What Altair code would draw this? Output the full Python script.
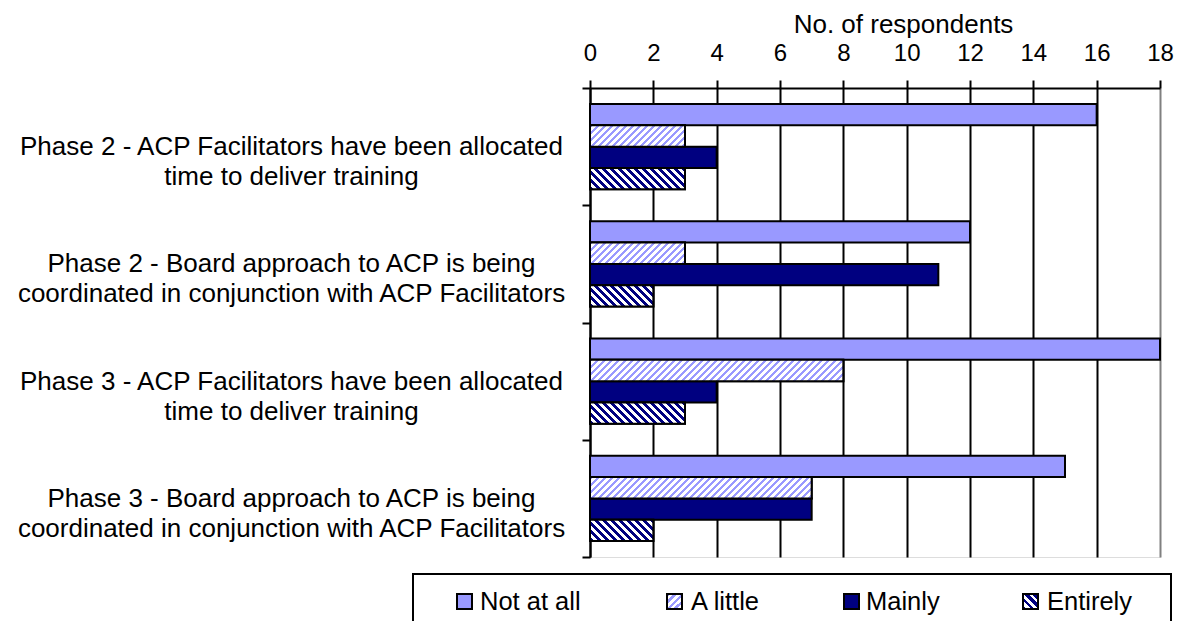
import altair as alt
import pandas as pd

# ---------------- data ----------------
categories = [
    "Phase 2 - ACP Facilitators have been allocated\ntime to deliver training",
    "Phase 2 - Board approach to ACP is being\ncoordinated in conjunction with ACP Facilitators",
    "Phase 3 - ACP Facilitators have been allocated\ntime to deliver training",
    "Phase 3 - Board approach to ACP is being\ncoordinated in conjunction with ACP Facilitators",
]
series = ["Not at all", "A little", "Mainly", "Entirely"]
not_at_all = [16, 12, 18, 15]
a_little = [3, 3, 8, 7]
mainly = [4, 11, 4, 7]
entirely = [3, 2, 3, 2]
x_ticks = [0, 2, 4, 6, 8, 10, 12, 14, 16, 18]
axis_title = "No. of respondents"

values_by_series = {
    "Not at all": not_at_all,
    "A little": a_little,
    "Mainly": mainly,
    "Entirely": entirely,
}
rows = []
for s in series:
    for c, v in zip(categories, values_by_series[s]):
        rows.append({"category": c, "series": s, "value": v})
df = pd.DataFrame(rows)

# ---------------- layout / style ----------------
FONT = "Liberation Sans"
W_PLOT, H_PLOT = 570, 469
X_MAX = 18
PX_PER_UNIT = W_PLOT / X_MAX
OFF_PAD = 0.7525
BAND = H_PLOT / len(categories)
BAR_H = BAND / (len(series) + 2 * OFF_PAD)

LIGHT = "#9999FF"
NAVY = "#000080"
solid_range = [LIGHT, "#FFFFFF", NAVY, "#FFFFFF"]
hatch_style = {
    "A little": dict(color=LIGHT, period=7.0, duty=0.45, direction="/"),
    "Entirely": dict(color=NAVY, period=8.0, duty=0.5, direction="\\"),
}


def hatch(w, h, color, period, duty, direction):
    L = w + h
    s = L * w / (w * w + h * h)
    if direction == "/":
        x1, y1, x2, y2 = 0, 0, s, s * h / w
    else:
        x1, y1, x2, y2 = 0, 1, s, 1 - s * h / w
    stops = []
    k = 0
    while k * period < L:
        a = k * period / L
        b = min((k + duty) * period / L, 1)
        c = min((k + 1) * period / L, 1)
        stops += [(a, color), (b, color), (b, "#FFFFFF"), (c, "#FFFFFF")]
        k += 1
    return {
        "gradient": "linear",
        "x1": round(x1, 5), "y1": round(y1, 5),
        "x2": round(x2, 5), "y2": round(y2, 5),
        "stops": [{"offset": round(o, 5), "color": col} for o, col in stops],
    }


xscale = alt.Scale(domain=[0, X_MAX], nice=False, zero=True)
yscale = alt.Scale(domain=categories, paddingInner=0, paddingOuter=0)
offscale = alt.Scale(domain=series, paddingInner=0, paddingOuter=OFF_PAD)

xaxis = alt.Axis(
    orient="top", values=x_ticks, format="d",
    title=axis_title, titleFont=FONT, titleFontSize=26, titleFontWeight="normal",
    titleColor="black", titleX=313, titleY=-56, titleAlign="center",
    titleBaseline="alphabetic",
    labelFont=FONT, labelFontSize=24, labelColor="black", labelBaseline="alphabetic",
    labelPadding=20, labelFlush=False, labelOverlap=False,
    tickSize=8, tickColor="black", tickWidth=2,
    domainColor="black", domainWidth=2,
    grid=True, gridWidth=2,
    gridColor={"condition": {"test": "datum.value === 18", "value": "#808080"}, "value": "black"},
)
yaxis = alt.Axis(
    title=None, labelExpr="split(datum.label, '\\n')",
    labelFont=FONT, labelFontSize=26, labelColor="black", labelAlign="center",
    labelBaseline="middle", labelLineHeight=30, labelPadding=291, labelLimit=2000,
    tickBand="extent", tickSize=8, tickColor="black", tickWidth=2,
    domainColor="black", domainWidth=2, grid=False,
)

enc_common = dict(
    y=alt.Y("category:N", sort=categories, scale=yscale, axis=yaxis),
    yOffset=alt.YOffset("series:N", sort=series, scale=offscale),
    x=alt.X("value:Q", scale=xscale, axis=xaxis),
)

base = alt.Chart(df).mark_bar(stroke="black", strokeWidth=2).encode(
    color=alt.Color("series:N", scale=alt.Scale(domain=series, range=solid_range), legend=None),
    **enc_common,
)

layers = [base]
for s, st in hatch_style.items():
    for c, v in zip(categories, values_by_series[s]):
        if v <= 0:
            continue
        one = df[(df["series"] == s) & (df["category"] == c)]
        g = hatch(v * PX_PER_UNIT, BAR_H, **st)
        layers.append(
            alt.Chart(one).mark_bar(fill=g, stroke="black", strokeWidth=2).encode(**enc_common)
        )

# ---------------- legend (drawn manually to allow hatched swatches) ----------------
leg_df = pd.DataFrame({"series": series})
legend_box = dict(x=-177, x2=581, y=486, y2=640)
swatch_left = [-133, 77, 254, 433]
text_left = [-110, 101, 276, 457]
SW = 15
SW_TOP = 506

frame = alt.Chart(leg_df.head(1)).mark_rect(
    fill="#FFFFFF", fillOpacity=0, stroke="black", strokeWidth=2
).encode(
    x=alt.value(legend_box["x"]), x2=alt.value(legend_box["x2"]),
    y=alt.value(legend_box["y"]), y2=alt.value(legend_box["y2"]),
)
layers.append(frame)

for i, s in enumerate(series):
    one = leg_df[leg_df["series"] == s]
    if s in hatch_style:
        fill = hatch(SW, SW, **hatch_style[s])
    else:
        fill = solid_range[i]
    layers.append(
        alt.Chart(one).mark_rect(fill=fill, stroke="black", strokeWidth=2).encode(
            x=alt.value(swatch_left[i]), x2=alt.value(swatch_left[i] + SW),
            y=alt.value(SW_TOP), y2=alt.value(SW_TOP + SW),
        )
    )
    layers.append(
        alt.Chart(one).mark_text(
            align="left", baseline="alphabetic", font=FONT, fontSize=25.5, color="black"
        ).encode(
            x=alt.value(text_left[i]), y=alt.value(522), text="series:N",
        )
    )

chart = alt.layer(*layers).properties(
    width=W_PLOT,
    height=H_PLOT,
    autosize=alt.AutoSizeParams(type="none"),
    padding={"left": 582, "top": 80, "right": 14, "bottom": 64},
).configure_view(stroke="#808080", strokeWidth=2).configure(font=FONT)

chart.save("out.html", embed_options={"renderer": "svg", "actions": False})
